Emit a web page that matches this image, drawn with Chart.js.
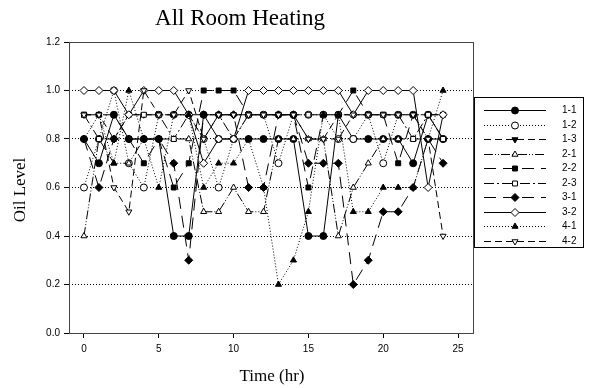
<!DOCTYPE html>
<html>
<head>
<meta charset="utf-8">
<script src="https://cdn.jsdelivr.net/npm/chart.js@4/dist/chart.umd.min.js"></script>
<style>
  html, body { margin: 0; padding: 0; background: #fff; }
  #wrap { width: 589px; height: 388px; }
</style>
</head>
<body>
<div id="wrap"><canvas id="c" width="589" height="388"></canvas></div>
<script>
// hours on the x axis
const hours = [0,1,2,3,4,5,6,7,8,9,10,11,12,13,14,15,16,17,18,19,20,21,22,23,24];

// oil level per series
const s11 = [0.8,0.7,0.9,0.8,0.8,0.8,0.4,0.4,0.9,0.8,0.8,0.8,0.8,0.8,0.8,0.4,0.4,0.9,0.8,0.8,0.8,0.8,0.7,0.9,0.8];
const s12 = [0.6,0.8,1.0,0.7,0.6,0.9,0.9,0.9,0.8,0.6,0.8,0.9,0.9,0.7,0.9,0.9,0.9,0.8,0.8,0.9,0.7,0.9,0.9,0.8,0.8];
const s13 = [0.9,0.9,0.8,0.9,0.9,0.9,0.9,0.9,0.8,0.9,0.9,0.9,0.9,0.9,0.9,0.8,0.8,0.9,0.9,0.9,0.9,0.9,0.9,0.9,0.9];
const s21 = [0.4,0.8,0.7,0.7,0.8,0.8,0.8,0.8,0.5,0.5,0.6,0.5,0.5,0.8,0.8,0.8,0.8,0.4,0.6,0.7,0.8,0.8,0.8,0.8,0.8];
const s22 = [0.9,0.9,0.9,0.8,0.7,0.8,0.6,0.7,1.0,1.0,1.0,0.9,0.9,0.9,0.9,0.6,0.9,0.9,1.0,0.9,0.9,0.7,0.9,0.9,0.9];
const s23 = [0.9,0.8,0.8,0.9,0.9,0.9,0.8,0.9,0.9,0.9,0.8,0.9,0.9,0.9,0.9,0.9,0.9,0.9,0.9,0.9,0.9,0.9,0.8,0.9,0.8];
const s31 = [0.8,0.6,0.8,0.8,0.8,0.8,0.7,0.3,0.9,0.9,0.9,0.6,0.6,0.9,0.9,0.7,0.7,0.7,0.2,0.3,0.5,0.5,0.6,0.8,0.7];
const s32 = [1.0,1.0,1.0,0.9,1.0,1.0,1.0,0.9,0.7,0.8,0.8,1.0,1.0,1.0,1.0,1.0,1.0,1.0,0.9,1.0,1.0,1.0,1.0,0.6,0.9];
const s41 = [0.8,0.9,0.7,1.0,0.8,0.6,0.9,0.9,0.6,0.7,0.7,0.8,0.6,0.2,0.3,0.5,0.9,0.9,0.5,0.5,0.6,0.6,0.6,0.8,1.0];
const s42 = [0.9,0.9,0.6,0.5,1.0,0.9,0.9,1.0,0.8,0.9,0.9,0.9,0.9,0.9,0.9,0.8,0.8,0.8,0.9,0.9,0.9,0.9,0.9,0.8,0.4];

const seriesNames = ['1-1','1-2','1-3','2-1','2-2','2-3','3-1','3-2','4-1','4-2'];
const seriesValues = [s11, s12, s13, s21, s22, s23, s31, s32, s41, s42];
const xTicks = [0, 5, 10, 15, 20, 25];
const yTicks = [0, 0.2, 0.4, 0.6, 0.8, 1.0, 1.2];

// marker + line style for each series
const styles = [
  { shape: 'circle',   rot: 0,   fill: '#000', dash: [] },
  { shape: 'circle',   rot: 0,   fill: '#fff', dash: [1, 2] },
  { shape: 'triangle', rot: 180, fill: '#000', dash: [7, 4] },
  { shape: 'triangle', rot: 0,   fill: '#fff', dash: [9, 2, 1, 2, 1, 2] },
  { shape: 'rect',     rot: 0,   fill: '#000', dash: [12, 7] },
  { shape: 'rect',     rot: 0,   fill: '#fff', dash: [10, 3, 2, 3] },
  { shape: 'rectRot',  rot: 0,   fill: '#000', dash: [12, 7] },
  { shape: 'rectRot',  rot: 0,   fill: '#fff', dash: [] },
  { shape: 'triangle', rot: 0,   fill: '#000', dash: [1, 2] },
  { shape: 'triangle', rot: 180, fill: '#fff', dash: [7, 4] }
];

const datasets = seriesNames.map((name, i) => ({
  label: name,
  data: hours.map((h, j) => ({ x: h, y: seriesValues[i][j] })),
  borderColor: '#000',
  borderWidth: 1,
  borderDash: styles[i].dash,
  pointStyle: styles[i].shape,
  pointRotation: styles[i].rot,
  pointRadius: styles[i].shape === 'rectRot' ? 4 : 3.5,
  pointBackgroundColor: styles[i].fill,
  pointBorderColor: '#000',
  pointBorderWidth: 1,
  tension: 0,
  fill: false,
  order: seriesNames.length - i
}));

// frame, titles and legend box
const decor = {
  id: 'decor',
  afterDraw(chart) {
    const ctx = chart.ctx;
    const a = chart.chartArea;
    ctx.save();
    ctx.strokeStyle = '#444';
    ctx.lineWidth = 1;
    ctx.setLineDash([]);
    ctx.strokeRect(Math.round(a.left) + 0.5, Math.round(a.top) + 0.5,
      Math.round(a.right - a.left), Math.round(a.bottom - a.top));

    ctx.fillStyle = '#000';
    ctx.textAlign = 'center';
    ctx.textBaseline = 'middle';
    ctx.font = '23px "Liberation Serif", "Times New Roman", serif';
    ctx.fillText('All Room Heating', 240, 19);
    ctx.font = '17px "Liberation Serif", "Times New Roman", serif';
    ctx.fillText('Time (hr)', 272, 377);
    ctx.save();
    ctx.translate(21, 190);
    ctx.rotate(-Math.PI / 2);
    ctx.fillText('Oil Level', 0, 0);
    ctx.restore();

    // legend
    ctx.fillStyle = '#fff';
    ctx.fillRect(474.5, 97.5, 109, 150);
    ctx.strokeStyle = '#000';
    ctx.strokeRect(474.5, 97.5, 109, 150);
    ctx.font = '10px "Liberation Sans", Arial, sans-serif';
    ctx.textAlign = 'left';
    seriesNames.forEach((name, i) => {
      const y = Math.round(110 + i * 14.55) + 0.5;
      const st = styles[i];
      ctx.strokeStyle = '#000';
      ctx.lineWidth = 1;
      ctx.setLineDash(st.dash);
      ctx.beginPath();
      ctx.moveTo(484, y);
      ctx.lineTo(546, y);
      ctx.stroke();
      ctx.setLineDash([]);
      ctx.fillStyle = st.fill;
      Chart.helpers.drawPoint(ctx, {
        pointStyle: st.shape, rotation: st.rot,
        radius: st.shape === 'rectRot' ? 4 : 3.5, borderWidth: 1
      }, 515, y);
      ctx.fillStyle = '#000';
      ctx.fillText(name, 562, y);
    });
    ctx.restore();
  }
};

new Chart(document.getElementById('c'), {
  type: 'line',
  data: { datasets },
  options: {
    responsive: false,
    animation: false,
    layout: { padding: { top: 42, right: 116, bottom: 0, left: 0 } },
    plugins: { legend: { display: false }, title: { display: false }, tooltip: { enabled: false } },
    scales: {
      x: {
        type: 'linear',
        min: -1,
        max: 26,
        afterBuildTicks: (s) => { s.ticks = xTicks.map(v => ({ value: v })); },
        afterFit: (s) => { s.height = 55; },
        grid: { drawOnChartArea: false, drawTicks: true, tickLength: 5, tickColor: '#000' },
        border: { display: false },
        ticks: { color: '#000', padding: 5, font: { family: '"Liberation Sans", Arial, sans-serif', size: 10 } }
      },
      y: {
        min: 0,
        max: 1.2,
        afterBuildTicks: (s) => { s.ticks = yTicks.map(v => ({ value: v })); },
        afterFit: (s) => { s.width = 69; },
        grid: {
          color: (c) => (c.tick && (c.tick.value === 0 || c.tick.value === 1.2)) ? 'rgba(0,0,0,0)' : '#000',
          lineWidth: 1,
          tickLength: 5,
          tickColor: '#000',
          tickBorderDash: []
        },
        border: { display: false, dash: [1, 2] },
        ticks: {
          color: '#000', padding: 4,
          font: { family: '"Liberation Sans", Arial, sans-serif', size: 10 },
          callback: (v) => v.toFixed(1)
        }
      }
    }
  },
  plugins: [decor]
});
</script>
</body>
</html>
